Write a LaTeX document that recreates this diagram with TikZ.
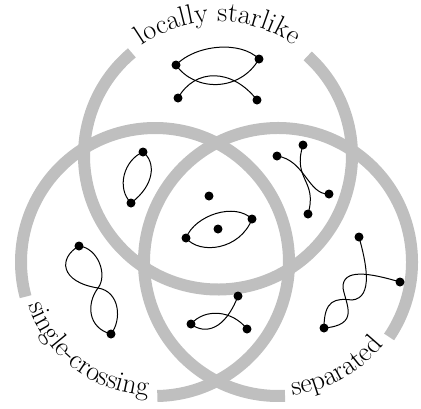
\documentclass[tikz,border=0pt]{standalone}
\usepackage{fontspec}
\usetikzlibrary{decorations.text,calc}
\newcommand\lblfont{\fontsize{28}{32}\selectfont}
\begin{document}
\begin{tikzpicture}[x=1pt,y=-1pt,
  ring/.style={line width=12pt, draw=black!25},
  vtx/.style={circle, fill=black, inner sep=0pt, minimum size=9pt},
  edge/.style={line width=1pt}]
\useasboundingbox (0,0) rectangle (421,408);
% circle centres
\coordinate (tc) at (218,155.5);
\coordinate (lc) at (155,262);
\coordinate (rc) at (278,262);
% rings with gaps
\draw[ring] ($(tc)+(-130:134)$) arc[start angle=-130, end angle=-408, radius=134];
\draw[ring] ($(lc)+(-271:134)$) arc[start angle=-271, end angle=-555, radius=134];
\draw[ring] ($(rc)+(-326:134)$) arc[start angle=-326, end angle=-633, radius=134];
% labels
\path[decorate, decoration={text along path, text align=center, text={|\lblfont|locally starlike}}]
  ($(tc)+(-150:134)$) arc[start angle=-150, end angle=-30, radius=134];
\path[decorate, decoration={text along path, text align=center, text={|\lblfont|single-crossing}}]
  ($(lc)+(-173:134)$) arc[start angle=-173, end angle=-293, radius=134];
\path[decorate, decoration={text along path, text align=center, text={|\lblfont|separated}}]
  ($(rc)+(121:134)$) arc[start angle=121, end angle=1, radius=134];
% vertices
\node[vtx] (tl) at (176,65) {};
\node[vtx] (tr) at (259,59) {};
\node[vtx] (bl) at (178,98) {};
\node[vtx] (br) at (257,100) {};
\node[vtx] (p) at (143,152) {};
\node[vtx] (q) at (131,203) {};
\node[vtx] (a1) at (277,156) {};
\node[vtx] (a2) at (329,194) {};
\node[vtx] (b1) at (303,145) {};
\node[vtx] (b2) at (308,214) {};
\node[vtx] (c1) at (209,196) {};
\node[vtx] (c2) at (252,219) {};
\node[vtx] (c3) at (218,229) {};
\node[vtx] (c4) at (186,238) {};
\node[vtx] (t) at (79,246) {};
\node[vtx] (bm) at (111,334) {};
\node[vtx] (u) at (359,237) {};
\node[vtx] (v) at (400,282) {};
\node[vtx] (w) at (324,328) {};
\node[vtx] (d1) at (238,296) {};
\node[vtx] (d2) at (191,324) {};
\node[vtx] (d3) at (247,329) {};
% edges: locally starlike only
\draw[edge] (tl.center) .. controls (195,45) and (240,40) .. (tr.center);
\draw[edge] (tl.center) .. controls (195,92) and (240,92) .. (tr.center);
\draw[edge] (bl.center) .. controls (195,68) and (232,68) .. (br.center);
% starlike + single-crossing
\draw[edge] (p.center) .. controls (124,160) and (116,188) .. (q.center);
\draw[edge] (p.center) .. controls (156,162) and (155,185) .. (q.center);
% starlike + separated
\draw[edge] (a1.center) .. controls (305,160) and (308,195) .. (a2.center);
\draw[edge] (b1.center) .. controls (292,180) and (318,180) .. (b2.center);
% all three
\draw[edge] (c4.center) .. controls (195,215) and (235,202) .. (c2.center);
\draw[edge] (c4.center) .. controls (200,255) and (240,250) .. (c2.center);
% single-crossing only
\draw[edge] (t.center) .. controls (58,258) and (60,282) .. (98,288) .. controls (120,291.5) and (122,320) .. (bm.center);
\draw[edge] (t.center) .. controls (98,248) and (108,275) .. (98,288) .. controls (86,304) and (88,328) .. (bm.center);
% separated only
\draw[edge] (u.center) .. controls (366,262) and (374,298) .. (352,300) .. controls (335,298) and (324,300) .. (w.center);
\draw[edge] (v.center) .. controls (370,273) and (342,268) .. (343,288) .. controls (346,305) and (360,325) .. (w.center);
% single-crossing + separated
\draw[edge] (d2.center) .. controls (205,308) and (232,310) .. (d3.center);
\draw[edge] (d2.center) .. controls (205,335) and (225,330) .. (d1.center);
\end{tikzpicture}
\end{document}
